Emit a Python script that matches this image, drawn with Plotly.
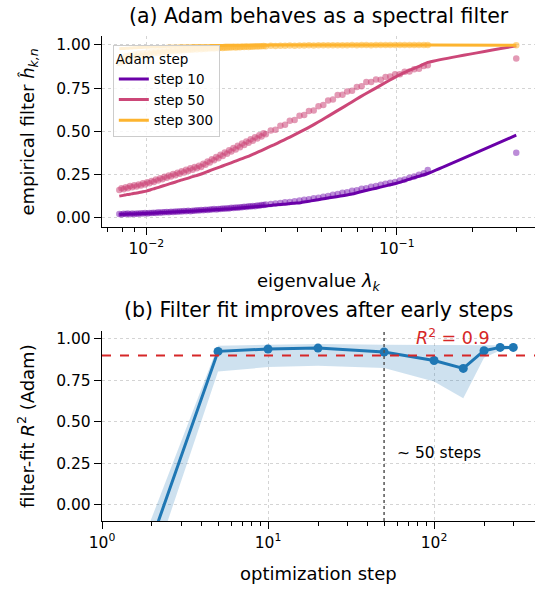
import math
import plotly.graph_objects as go

# ---------------- data: panel (a) ----------------
# eigenvalues at which the empirical filter was measured (scatter)
eig_emp = [0.00780, 0.00796, 0.00812, 0.00828, 0.00844, 0.00861, 0.00878, 0.00896, 0.00914, 0.00932,
           0.00951, 0.00970, 0.00989, 0.01009, 0.01029, 0.01050, 0.01071, 0.01092, 0.01114, 0.01136,
           0.01159, 0.01182, 0.01206, 0.01230, 0.01255, 0.01280, 0.01306, 0.01332, 0.01358, 0.01385,
           0.01413, 0.01441, 0.01470, 0.01500, 0.01530, 0.01560, 0.01591, 0.01623, 0.01655, 0.01689,
           0.01722, 0.01757, 0.01792, 0.01828, 0.01864, 0.01902, 0.01940, 0.01978, 0.02018, 0.02058,
           0.02100, 0.02142, 0.02184, 0.02228, 0.02273, 0.02318, 0.02365, 0.02412, 0.02460, 0.02509,
           0.02560, 0.02611, 0.02663, 0.02716, 0.02771, 0.02826, 0.02883, 0.02940, 0.03000, 0.0314,
           0.0328, 0.0343, 0.0358, 0.0374, 0.0391, 0.0409, 0.0427, 0.0446, 0.0466, 0.0487,
           0.0509, 0.0532, 0.0556, 0.0581, 0.0607, 0.0634, 0.0663, 0.0693, 0.0724, 0.0756,
           0.0790, 0.0826, 0.0863, 0.0902, 0.0942, 0.0985, 0.1029, 0.1075, 0.1124, 0.1174,
           0.1227, 0.1282, 0.1330, 0.3000]

h_emp_step10 = [0.022, 0.019, 0.023, 0.021, 0.024, 0.020, 0.024, 0.022, 0.025, 0.023,
                0.026, 0.024, 0.027, 0.025, 0.028, 0.027, 0.029, 0.028, 0.031, 0.029,
                0.032, 0.031, 0.033, 0.032, 0.035, 0.033, 0.036, 0.035, 0.037, 0.036,
                0.039, 0.037, 0.040, 0.038, 0.041, 0.040, 0.043, 0.042, 0.045, 0.043,
                0.046, 0.045, 0.048, 0.047, 0.050, 0.048, 0.051, 0.050, 0.053, 0.052,
                0.055, 0.054, 0.057, 0.056, 0.059, 0.058, 0.061, 0.060, 0.063, 0.062,
                0.066, 0.065, 0.068, 0.067, 0.071, 0.070, 0.074, 0.073, 0.077, 0.079,
                0.083, 0.085, 0.089, 0.091, 0.096, 0.099, 0.104, 0.107, 0.112, 0.116,
                0.122, 0.126, 0.133, 0.137, 0.144, 0.148, 0.156, 0.159, 0.167, 0.171,
                0.179, 0.183, 0.191, 0.196, 0.203, 0.207, 0.216, 0.221, 0.231, 0.238,
                0.249, 0.258, 0.276, 0.376]

h_emp_step50 = [0.160, 0.170, 0.165, 0.176, 0.171, 0.183, 0.176, 0.188, 0.181, 0.193,
                0.187, 0.199, 0.193, 0.205, 0.199, 0.213, 0.207, 0.221, 0.215, 0.229,
                0.222, 0.237, 0.231, 0.245, 0.238, 0.253, 0.246, 0.261, 0.254, 0.269,
                0.262, 0.277, 0.270, 0.286, 0.278, 0.294, 0.286, 0.301, 0.294, 0.312,
                0.306, 0.325, 0.319, 0.338, 0.332, 0.351, 0.345, 0.364, 0.357, 0.377,
                0.370, 0.390, 0.383, 0.403, 0.395, 0.416, 0.408, 0.429, 0.421, 0.441,
                0.434, 0.454, 0.446, 0.466, 0.458, 0.478, 0.470, 0.489, 0.483, 0.505,
                0.509, 0.532, 0.538, 0.562, 0.566, 0.590, 0.594, 0.618, 0.620, 0.646,
                0.652, 0.679, 0.684, 0.710, 0.712, 0.731, 0.735, 0.757, 0.761, 0.785,
                0.786, 0.800, 0.799, 0.815, 0.818, 0.830, 0.831, 0.845, 0.846, 0.860,
                0.862, 0.878, 0.883, 0.922]

h_emp_step300 = [0.895, 0.925, 0.905, 0.935, 0.915, 0.940, 0.925, 0.945, 0.930, 0.950,
                 0.938, 0.952, 0.942, 0.957, 0.946, 0.960, 0.950, 0.962, 0.954, 0.965,
                 0.957, 0.967, 0.960, 0.969, 0.963, 0.971, 0.965, 0.972, 0.967, 0.974,
                 0.969, 0.975, 0.971, 0.976, 0.973, 0.978, 0.974, 0.979, 0.976, 0.980,
                 0.977, 0.981, 0.979, 0.983, 0.980, 0.984, 0.981, 0.985, 0.983, 0.986,
                 0.984, 0.987, 0.985, 0.988, 0.986, 0.989, 0.987, 0.990, 0.988, 0.991,
                 0.989, 0.991, 0.990, 0.992, 0.991, 0.993, 0.992, 0.994, 0.993, 0.995,
                 0.994, 0.996, 0.995, 0.997, 0.996, 0.997, 0.997, 0.998, 0.997, 0.998,
                 0.998, 0.999, 0.998, 0.999, 0.999, 0.999, 1.000, 0.999, 1.000, 1.000,
                 0.999, 1.000, 1.000, 1.000, 1.000, 1.000, 1.000, 1.000, 1.000, 1.000,
                 1.000, 1.000, 1.000, 0.999]

# eigenvalues at which the fitted filter curves are drawn
eig_fit = [0.0078, 0.0080, 0.0082, 0.0084, 0.0086, 0.0088, 0.0090, 0.0093, 0.0096, 0.0100,
           0.0104, 0.0108, 0.0112, 0.0117, 0.0122, 0.0127, 0.0133, 0.0139, 0.0146, 0.0153,
           0.0160, 0.0168, 0.0177, 0.0186, 0.0196, 0.0207, 0.0218, 0.0230, 0.0243, 0.0257,
           0.0272, 0.0288, 0.0305, 0.0323, 0.0343, 0.0365, 0.0388, 0.0413, 0.0440, 0.0470,
           0.0502, 0.0537, 0.0575, 0.0617, 0.0662, 0.0712, 0.0767, 0.0828, 0.0895, 0.0970,
           0.1050, 0.1140, 0.1240, 0.1330, 0.3000]

h_fit_step10 = [0.019, 0.020, 0.020, 0.021, 0.021, 0.022, 0.022, 0.023, 0.024, 0.025,
                0.026, 0.027, 0.029, 0.030, 0.031, 0.033, 0.034, 0.036, 0.037, 0.039,
                0.040, 0.042, 0.044, 0.046, 0.048, 0.050, 0.052, 0.055, 0.057, 0.060,
                0.063, 0.066, 0.069, 0.073, 0.076, 0.080, 0.084, 0.087, 0.094, 0.101,
                0.108, 0.115, 0.122, 0.129, 0.137, 0.149, 0.160, 0.171, 0.183, 0.195,
                0.209, 0.226, 0.242, 0.256, 0.478]

h_fit_step50 = [0.125, 0.128, 0.131, 0.134, 0.136, 0.139, 0.142, 0.145, 0.149, 0.154,
                0.162, 0.169, 0.176, 0.185, 0.193, 0.201, 0.210, 0.219, 0.228, 0.238,
                0.246, 0.256, 0.269, 0.281, 0.293, 0.306, 0.318, 0.331, 0.344, 0.357,
                0.373, 0.389, 0.406, 0.422, 0.440, 0.459, 0.478, 0.498, 0.519, 0.542,
                0.566, 0.591, 0.617, 0.643, 0.670, 0.698, 0.725, 0.752, 0.780, 0.808,
                0.834, 0.857, 0.879, 0.899, 0.995]

h_fit_step300 = [0.978, 0.979, 0.980, 0.981, 0.982, 0.983, 0.984, 0.985, 0.986, 0.987,
                 0.988, 0.989, 0.990, 0.991, 0.992, 0.992, 0.993, 0.994, 0.994, 0.995,
                 0.995, 0.996, 0.996, 0.997, 0.997, 0.998, 0.998, 0.998, 0.999, 0.999,
                 0.999, 0.999, 0.999, 1.000, 1.000, 1.000, 1.000, 1.000, 1.000, 1.000,
                 1.000, 1.000, 1.000, 1.000, 1.000, 1.000, 1.000, 1.000, 1.000, 1.000,
                 1.000, 1.000, 1.000, 1.000, 0.999]

series_names = ["step 10", "step 50", "step 300"]
series_colors = ["#6a00a8", "#cc4778", "#fdb42f"]
series_marker_colors = ["rgba(106,0,168,0.45)", "rgba(204,71,120,0.55)", "rgba(253,180,47,0.55)"]

# ---------------- data: panel (b) ----------------
steps = [1, 5, 10, 20, 50, 100, 150, 200, 250, 300]
r2_mean = [-1.07, 0.925, 0.939, 0.945, 0.921, 0.870, 0.822, 0.929, 0.949, 0.949]
r2_low = [-1.28, 0.804, 0.830, 0.838, 0.824, 0.743, 0.642, 0.887, 0.930, 0.940]
r2_high = [-0.86, 0.959, 0.965, 0.970, 0.965, 0.965, 0.965, 0.965, 0.962, 0.958]
r2_threshold = 0.9
transition_step = 50

# ---------------- tick labels ----------------
a_xtick_vals = [0.01, 0.1]
a_xtick_text = ["10<sup>−2</sup>", "10<sup>−1</sup>"]
a_xminor_vals = [0.007, 0.008, 0.009, 0.02, 0.03, 0.04, 0.05, 0.06, 0.07, 0.08, 0.09, 0.2, 0.3]
b_xtick_vals = [1, 10, 100]
b_xtick_text = ["10<sup>0</sup>", "10<sup>1</sup>", "10<sup>2</sup>"]
b_xminor_vals = [2, 3, 4, 5, 6, 7, 8, 9, 20, 30, 40, 50, 60, 70, 80, 90, 200, 300]
y_tick_vals = [0.0, 0.25, 0.5, 0.75, 1.0]

FONT = "DejaVu Sans"

fig = go.Figure()

emp = [h_emp_step10, h_emp_step50, h_emp_step300]
fit = [h_fit_step10, h_fit_step50, h_fit_step300]
for name, col, mcol, e, f in zip(series_names, series_colors, series_marker_colors, emp, fit):
    fig.add_trace(go.Scatter(x=eig_emp, y=e, mode="markers",
                             marker=dict(size=6.5, color=mcol, line=dict(width=0)),
                             showlegend=False, xaxis="x", yaxis="y", hoverinfo="skip"))
    fig.add_trace(go.Scatter(x=eig_fit, y=f, mode="lines", name=name,
                             line=dict(color=col, width=3, shape="spline", smoothing=0.6),
                             xaxis="x", yaxis="y"))

# panel (b)
fig.add_trace(go.Scatter(x=steps, y=r2_high, mode="lines", line=dict(width=0),
                         showlegend=False, xaxis="x2", yaxis="y2", hoverinfo="skip"))
fig.add_trace(go.Scatter(x=steps, y=r2_low, mode="lines", line=dict(width=0),
                         fill="tonexty", fillcolor="rgba(31,119,180,0.22)",
                         showlegend=False, xaxis="x2", yaxis="y2", hoverinfo="skip"))
fig.add_trace(go.Scatter(x=steps, y=r2_mean, mode="lines+markers",
                         line=dict(color="#1f77b4", width=3),
                         marker=dict(size=9, color="#1f77b4"),
                         showlegend=False, xaxis="x2", yaxis="y2"))

axis_common = dict(showline=True, linecolor="black", linewidth=1.4,
                   ticks="outside", ticklen=7, tickwidth=1.3, tickcolor="black",
                   showgrid=True, gridcolor="#d4d4d4", griddash="dot", gridwidth=1,
                   zeroline=False, tickfont=dict(size=15.5, color="black", family=FONT))

minor_common = dict(ticks="outside", ticklen=4, tickwidth=1, tickcolor="black", showgrid=False)

fig.update_layout(
    width=540, height=589,
    margin=dict(l=102, r=5, t=36, b=68),
    paper_bgcolor="white", plot_bgcolor="white",
    font=dict(family=FONT, size=15, color="black"),
    xaxis=dict(type="log", range=[-2.177, -0.448], domain=[0, 1], anchor="y",
               tickmode="array", tickvals=a_xtick_vals, ticktext=a_xtick_text,
               minor=dict(tickvals=a_xminor_vals, **minor_common), **axis_common),
    yaxis=dict(range=[-0.052, 1.052], domain=[0.6068, 1.0], anchor="x",
               tickmode="array", tickvals=y_tick_vals, tickformat=".2f", **axis_common),
    xaxis2=dict(type="log", range=[0, 2.608], domain=[0, 1], anchor="y2",
                tickmode="array", tickvals=b_xtick_vals, ticktext=b_xtick_text,
                minor=dict(tickvals=b_xminor_vals, **minor_common), **axis_common),
    yaxis2=dict(range=[-0.1, 1.05], domain=[0, 0.3924], anchor="x2",
                tickmode="array", tickvals=y_tick_vals, tickformat=".2f", **axis_common),
    legend=dict(x=0.025, y=0.981, xanchor="left", yanchor="top",
                traceorder="normal",
                bgcolor="rgba(255,255,255,0.8)", bordercolor="#cccccc", borderwidth=1,
                font=dict(size=13.5, family=FONT, color="black"),
                title=dict(text="Adam step", font=dict(size=13.5, family=FONT, color="black")),
                tracegroupgap=0, itemwidth=30),
    showlegend=True,
)

# reference lines for panel (b)
fig.add_shape(type="line", xref="x2 domain", x0=0, x1=1, yref="y2",
              y0=r2_threshold, y1=r2_threshold,
              line=dict(color="#d62728", width=2, dash="dash"), layer="above")
fig.add_shape(type="line", xref="x2", x0=transition_step, x1=transition_step,
              yref="y2 domain", y0=0, y1=1,
              line=dict(color="#555555", width=1.5, dash="dot"), layer="above")

annotations = [
    dict(text="(a) Adam behaves as a spectral filter", xref="paper", yref="paper",
         x=0.5, y=1.041, xanchor="center", yanchor="middle", showarrow=False,
         font=dict(size=20.5, family=FONT, color="black")),
    dict(text="(b) Filter fit improves after early steps", xref="paper", yref="paper",
         x=0.5, y=0.435, xanchor="center", yanchor="middle", showarrow=False,
         font=dict(size=20.5, family=FONT, color="black")),
    dict(text="eigenvalue <i>λ</i><sub><i>k</i></sub>", xref="paper", yref="paper",
         x=0.5, y=0.4928, xanchor="center", yanchor="middle", showarrow=False,
         font=dict(size=18, family=FONT, color="black")),
    dict(text="optimization step", xref="paper", yref="paper",
         x=0.5, y=-0.109, xanchor="center", yanchor="middle", showarrow=False,
         font=dict(size=18, family=FONT, color="black")),
    dict(text="empirical filter <i>ĥ</i><sub><i>k,n</i></sub>", xref="paper", yref="paper",
         x=-0.1686, y=0.803, xanchor="center", yanchor="middle", textangle=-90,
         showarrow=False, font=dict(size=18, family=FONT, color="black")),
    dict(text="filter-fit <i>R</i><sup>2</sup> (Adam)", xref="paper", yref="paper",
         x=-0.1755, y=0.196, xanchor="center", yanchor="middle", textangle=-90,
         showarrow=False, font=dict(size=18, family=FONT, color="black")),
    dict(text="<i>R</i><sup>2</sup> = 0.9", xref="x2", yref="y2",
         x=math.log10(130), y=1.012, xanchor="center", yanchor="middle", showarrow=False,
         font=dict(size=17.5, family=FONT, color="#d62728")),
    dict(text="∼ 50 steps", xref="x2", yref="y2",
         x=math.log10(58.5), y=0.312, xanchor="left", yanchor="middle", showarrow=False,
         font=dict(size=15.5, family=FONT, color="black")),
]
fig.update_layout(annotations=annotations)

# remove the browser's default 8px body margin so the figure fills the window exactly
fig.write_html("out.html", config={"displayModeBar": False},
               post_script="document.body.style.margin='0';")
